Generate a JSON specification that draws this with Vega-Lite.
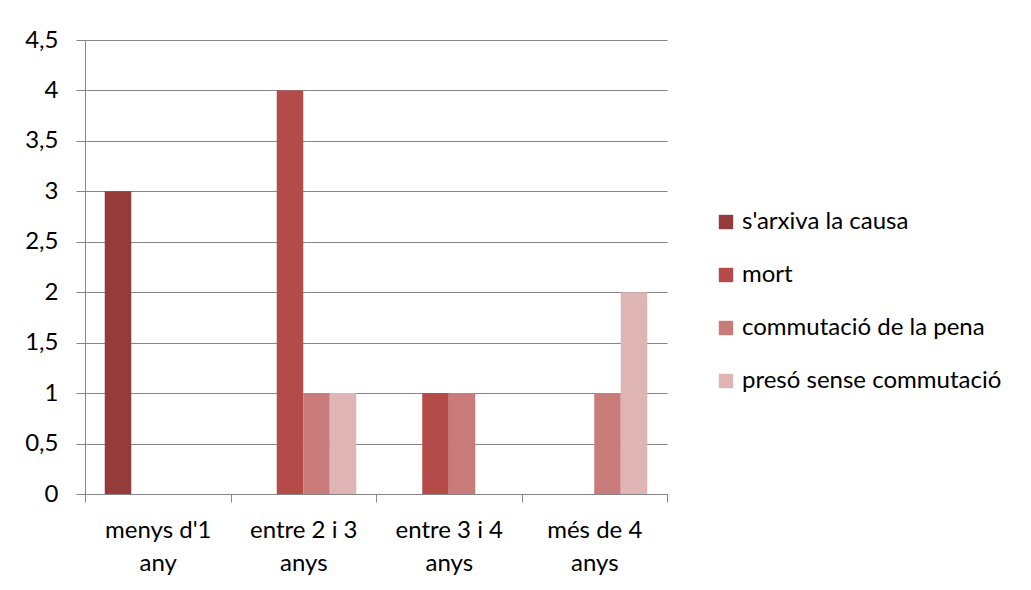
{
  "$schema": "https://vega.github.io/schema/vega-lite/v6.json",
  "width": 582,
  "height": 454,
  "autosize": "none",
  "padding": {"left": 85, "top": 40, "right": 364, "bottom": 96},
  "background": "white",
  "data": {
    "values": [
      {"periode": "menys d'1 any", "resultat": "s'arxiva la causa", "n": 3},
      {"periode": "entre 2 i 3 anys", "resultat": "mort", "n": 4},
      {"periode": "entre 2 i 3 anys", "resultat": "commutació de la pena", "n": 1},
      {"periode": "entre 2 i 3 anys", "resultat": "presó sense commutació", "n": 1},
      {"periode": "entre 3 i 4 anys", "resultat": "mort", "n": 1},
      {"periode": "entre 3 i 4 anys", "resultat": "commutació de la pena", "n": 1},
      {"periode": "més de 4 anys", "resultat": "commutació de la pena", "n": 1},
      {"periode": "més de 4 anys", "resultat": "presó sense commutació", "n": 2}
    ]
  },
  "mark": {"type": "bar"},
  "encoding": {
    "x": {
      "field": "periode",
      "type": "nominal",
      "sort": ["menys d'1 any", "entre 2 i 3 anys", "entre 3 i 4 anys", "més de 4 anys"],
      "scale": {"paddingInner": 0, "paddingOuter": 0},
      "axis": {
        "title": null,
        "labelAngle": 0,
        "tickBand": "extent",
        "tickSize": 8,
        "tickColor": "#868686",
        "domainColor": "#868686",
        "labelFontSize": 24,
        "labelColor": "#000000",
        "labelLineHeight": 33,
        "labelPadding": 16,
        "labelExpr": "[substring(datum.label, 0, lastindexof(datum.label, ' ')), substring(datum.label, lastindexof(datum.label, ' ') + 1)]"
      }
    },
    "xOffset": {
      "field": "resultat",
      "type": "nominal",
      "scale": {
        "domain": ["s'arxiva la causa", "mort", "commutació de la pena", "presó sense commutació"],
        "paddingInner": 0,
        "paddingOuter": 0.745
      }
    },
    "y": {
      "field": "n",
      "type": "quantitative",
      "scale": {"domain": [0, 4.5], "nice": false},
      "axis": {
        "title": null,
        "values": [0, 0.5, 1, 1.5, 2, 2.5, 3, 3.5, 4, 4.5],
        "format": ".1~f",
        "labelExpr": "replace(datum.label, '.', ',')",
        "grid": true,
        "gridColor": "#868686",
        "gridOpacity": 1,
        "tickSize": 9,
        "tickColor": "#868686",
        "domainColor": "#868686",
        "labelFontSize": 24,
        "labelColor": "#000000",
        "labelPadding": 18
      }
    },
    "color": {
      "field": "resultat",
      "type": "nominal",
      "scale": {
        "domain": ["s'arxiva la causa", "mort", "commutació de la pena", "presó sense commutació"],
        "range": ["#953B39", "#B44B49", "#C97B7A", "#DEB4B4"]
      },
      "legend": {
        "orient": "none",
        "legendX": 629,
        "legendY": 170,
        "title": null,
        "symbolType": "square",
        "symbolSize": 207,
        "symbolStrokeWidth": 0,
        "labelFontSize": 24,
        "labelColor": "#000000",
        "labelOffset": 4,
        "rowPadding": 29,
        "labelLimit": 400
      }
    }
  },
  "config": {"view": {"stroke": null}, "font": "Lato"}
}
